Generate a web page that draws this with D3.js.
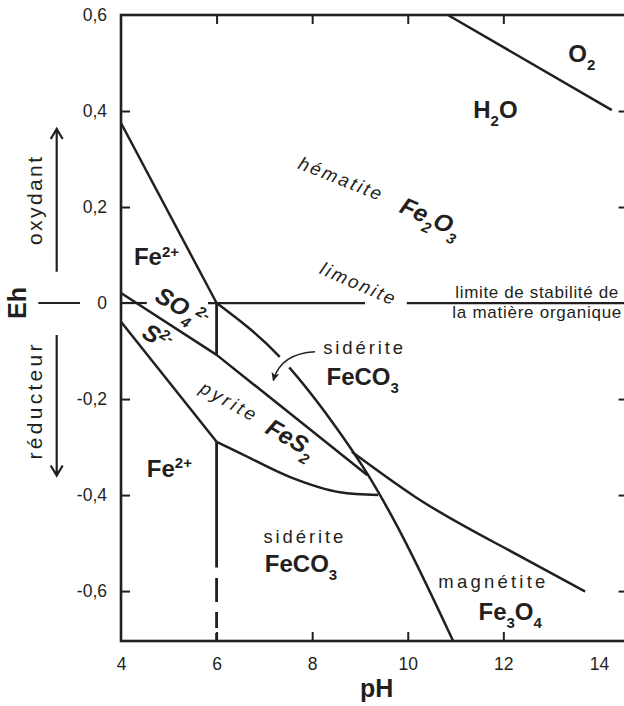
<!DOCTYPE html>
<html>
<head>
<meta charset="utf-8">
<script src="https://cdn.jsdelivr.net/npm/d3@7"></script>
<style>
  body { margin: 0; background: #fff; }
  svg { display: block; font-family: "Liberation Sans", Arial, Helvetica, sans-serif; }
</style>
</head>
<body>
<div id="chart"></div>
<script>
// Axis values
const xLabels = [4, 6, 8, 10, 12, 14];
const xMarks = [6, 8, 10, 12];
const yLabels = [0.6, 0.4, 0.2, 0, -0.2, -0.4, -0.6];
const yMarks = [0.4, 0.2, -0.2, -0.4, -0.6];

// Stability boundaries, [pH, Eh]
const o2Water = [[10.84, 0.6], [14.27, 0.402]];
const fe2Hematite = [[4, 0.375], [6, 0]];
const hematiteSiderite = [[6, 0], [7.3, -0.11], [8.4, -0.245], [9.15, -0.355], [9.7, -0.45], [10.95, -0.704]];
const sulfateSulfide = [[4, 0.021], [6, -0.108], [9.15, -0.358]];
const pyriteLow = [[4, -0.039], [6, -0.289]];
const pyriteCurve = [[6, -0.289], [6.49, -0.3125], [7.54, -0.3625], [8.58, -0.394], [9.38, -0.40]];
const magnetiteTop = [[8.83, -0.31], [10.15, -0.4035], [12.49, -0.535], [13.71, -0.601]];
const ph6Solid = [[[6, 0], [6, -0.108]], [[6, -0.289], [6, -0.551]]];
const ph6Dashed = [[6, -0.573], [6, -0.704]];
// horizontal Eh = 0 line, pieces (pH from, pH to)
const zeroPieces = [[4, 4.54], [5.82, 9.106], [9.98, 14.6]];
// arrow from the upper siderite label
const sideriteArrow = [[8.06, -0.1015], [7.35, -0.105], [7.19, -0.160]];

const width = 624, height = 706;
const ink = '#231f20';

const svg = d3.select('#chart').append('svg')
  .attr('width', width)
  .attr('height', height);

const x = d3.scaleLinear().domain([4, 14.6]).range([121, 627.6]);
const y = d3.scaleLinear().domain([-0.704, 0.6]).range([641, 15]);

const comma = v => String(v).replace('.', ',');

// tick labels
svg.append('g')
  .attr('transform', `translate(${x(4)},0)`)
  .call(d3.axisLeft(y).tickValues(yLabels).tickSize(0).tickPadding(14).tickFormat(comma))
  .call(g => g.select('.domain').remove());

svg.append('g')
  .attr('transform', `translate(0,${y(-0.704)})`)
  .call(d3.axisBottom(x).tickValues(xLabels).tickSize(0).tickPadding(17).tickFormat(d3.format('d')))
  .call(g => g.select('.domain').remove());

svg.selectAll('.tick text')
  .attr('font-size', 17.5)
  .attr('font-family', '"Liberation Sans", Arial, sans-serif')
  .attr('fill', ink);

// inward tick marks on all four sides
const tickG = [
  [d3.axisLeft(y).tickValues(yMarks), `translate(${x(4)},0)`],
  [d3.axisRight(y).tickValues(yMarks), `translate(${x(14.6)},0)`],
  [d3.axisBottom(x).tickValues(xMarks), `translate(0,${y(-0.704)})`],
  [d3.axisTop(x).tickValues(xMarks), `translate(0,${y(0.6)})`]
];
tickG.forEach(([ax, tr]) => {
  svg.append('g')
    .attr('transform', tr)
    .call(ax.tickSize(-9).tickFormat(''))
    .call(g => g.select('.domain').remove())
    .call(g => g.selectAll('line').attr('stroke', ink).attr('stroke-width', 2));
});

// frame
svg.append('rect')
  .attr('x', x(4))
  .attr('y', y(0.6))
  .attr('width', x(14.6) - x(4))
  .attr('height', y(-0.704) - y(0.6))
  .attr('fill', 'none')
  .attr('stroke', ink)
  .attr('stroke-width', 2.6);

const line = d3.line().x(d => x(d[0])).y(d => y(d[1]));
const smooth = d3.line().x(d => x(d[0])).y(d => y(d[1])).curve(d3.curveMonotoneX);

function draw(gen, data, w) {
  return svg.append('path')
    .datum(data)
    .attr('d', gen)
    .attr('fill', 'none')
    .attr('stroke', ink)
    .attr('stroke-width', w || 2.5)
    .attr('stroke-linejoin', 'round');
}

zeroPieces.forEach(p => draw(line, [[p[0], 0], [p[1], 0]], 2.2));
draw(line, o2Water);
draw(line, fe2Hematite);
draw(smooth, hematiteSiderite);
draw(line, sulfateSulfide);
draw(line, pyriteLow);
draw(smooth, pyriteCurve);
draw(smooth, magnetiteTop);
ph6Solid.forEach(s => draw(line, s, 2.8));
draw(line, ph6Dashed, 2.8).attr('stroke-dasharray', '24,10,16,5,10');

// curved arrow pointing at the siderite boundary (white halo cuts the line)
const arrowPath = `M${x(sideriteArrow[0][0])},${y(sideriteArrow[0][1])}` +
  `Q${x(sideriteArrow[1][0])},${y(sideriteArrow[1][1])} ${x(sideriteArrow[2][0])},${y(sideriteArrow[2][1])}`;

svg.append('defs').append('marker')
  .attr('id', 'head')
  .attr('viewBox', '0 0 10 10')
  .attr('refX', 8).attr('refY', 5)
  .attr('markerWidth', 9).attr('markerHeight', 9)
  .attr('markerUnits', 'userSpaceOnUse')
  .attr('orient', 'auto')
  .append('path')
  .attr('d', 'M0,0.5 L10,5 L0,9.5 L2.5,5 Z')
  .attr('fill', ink);

svg.append('path')
  .attr('d', arrowPath)
  .attr('fill', 'none')
  .attr('stroke', '#fff')
  .attr('stroke-width', 14);

svg.append('path')
  .attr('d', arrowPath)
  .attr('fill', 'none')
  .attr('stroke', ink)
  .attr('stroke-width', 1.5)
  .attr('marker-end', 'url(#head)');

// chemical formula labels with sub/superscripts
function chem(parts, pH, eh, angle, italic, size) {
  const t = svg.append('text')
    .attr('transform', `translate(${x(pH)},${y(eh)}) rotate(${angle})`)
    .attr('font-size', size || 24)
    .attr('font-weight', 'bold')
    .attr('font-style', italic ? 'italic' : 'normal')
    .attr('fill', ink);
  let shift = 0;
  parts.forEach(([s, kind]) => {
    const target = kind === 'sub' ? 8 : kind === 'sup' ? -8.5 : 0;
    const ts = t.append('tspan').attr('dy', target - shift).text(s);
    if (kind) ts.attr('font-size', 15);
    shift = target;
  });
}

// spaced mineral names
function word(s, pH, eh, angle, italic, len) {
  svg.append('text')
    .attr('transform', `translate(${x(pH)},${y(eh)}) rotate(${angle})`)
    .attr('font-size', 18.5)
    .attr('font-style', italic ? 'italic' : 'normal')
    .attr('textLength', len)
    .attr('lengthAdjust', 'spacing')
    .attr('fill', ink)
    .text(s);
}

chem([['O'], ['2', 'sub']], 13.36, 0.503, 0, false);
chem([['H'], ['2', 'sub'], ['O']], 11.37, 0.385, 0, false);
chem([['Fe'], ['2+', 'sup']], 4.27, 0.079, 0, false);
chem([['Fe'], ['2+', 'sup']], 4.54, -0.362, 0, false);
chem([['SO'], ['4', 'sub'], ['2-', 'sup']], 4.68, 0.006, 30, true);
chem([['S'], ['2-', 'sup']], 4.41, -0.07, 30, true);
chem([['Fe'], ['2', 'sub'], ['O'], ['3', 'sub']], 9.80, 0.19, 24, true);
chem([['FeS'], ['2', 'sub']], 6.99, -0.269, 30, true);
chem([['FeCO'], ['3', 'sub']], 8.30, -0.171, 0, false);
chem([['FeCO'], ['3', 'sub']], 7.01, -0.56, 0, false);
chem([['Fe'], ['3', 'sub'], ['O'], ['4', 'sub']], 11.48, -0.66, 0, false);

word('hématite', 7.68, 0.281, 21.6, true, 88);
word('limonite', 8.13, 0.062, 23.4, true, 80);
word('pyrite', 5.62, -0.185, 29, true, 61);
word('sidérite', 8.23, -0.107, 0, false, 80);
word('sidérite', 6.98, -0.50, 0, false, 80);
word('magnétite', 10.64, -0.594, 0, false, 107);

// organic matter note on the right
[['limite de stabilité de', 0.0104, 163], ['la matière organique', -0.031, 169]].forEach(([s, eh, len]) => {
  svg.append('text')
    .attr('x', x(12.70))
    .attr('y', y(eh))
    .attr('text-anchor', 'middle')
    .attr('font-size', 17)
    .attr('textLength', len)
    .attr('lengthAdjust', 'spacing')
    .attr('fill', ink)
    .text(s);
});

// axis titles
svg.append('text')
  .attr('x', 376.7)
  .attr('y', 697)
  .attr('text-anchor', 'middle')
  .attr('font-size', 25)
  .attr('font-weight', 'bold')
  .attr('fill', ink)
  .text('pH');

svg.append('text')
  .attr('transform', `translate(25.5,${y(0)}) rotate(-90)`)
  .attr('text-anchor', 'middle')
  .attr('font-size', 25)
  .attr('font-weight', 'bold')
  .attr('fill', ink)
  .text('Eh');

[['oxydant', 201, 88], ['réducteur', 402, 115]].forEach(([s, cy, len]) => {
  svg.append('text')
    .attr('transform', `translate(42,${cy}) rotate(-90)`)
    .attr('text-anchor', 'middle')
    .attr('font-size', 21)
    .attr('textLength', len)
    .attr('lengthAdjust', 'spacing')
    .attr('fill', ink)
    .text(s);
});

// side arrows and separator
const side = svg.append('g')
  .attr('fill', 'none')
  .attr('stroke', ink)
  .attr('stroke-width', 2.2);
side.append('path').attr('d', 'M56.7,271.7 V129 M50.7,139 L56.7,129 L62.7,139');
side.append('path').attr('d', 'M56.7,335 V475.5 M50.7,465.5 L56.7,475.5 L62.7,465.5');
side.append('path').attr('d', `M38.3,${y(0)} H80`).attr('stroke-width', 2);
</script>
</body>
</html>
